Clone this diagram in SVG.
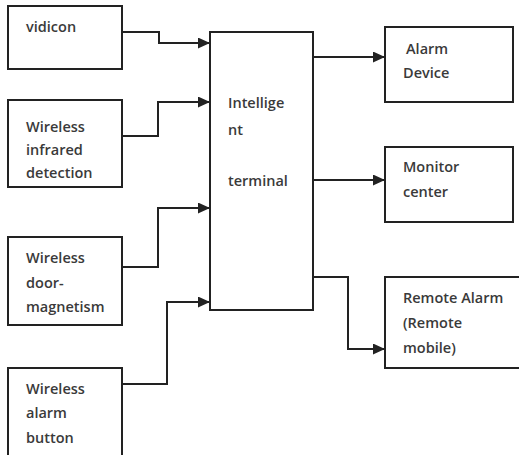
<svg xmlns="http://www.w3.org/2000/svg" width="519" height="455" viewBox="0 0 519 455">
<defs>
<marker id="ah" markerWidth="12" markerHeight="12" refX="12" refY="5.5" orient="auto" markerUnits="userSpaceOnUse">
<path d="M0,0 L12,5.5 L0,11 Z" fill="#222"/>
</marker>
<style>
.box{fill:#fff;stroke:#222;stroke-width:2}
.t{font-family:"Open Sans","Liberation Sans",sans-serif;font-size:14.5px;font-weight:600;fill:#3a3a3a}
.c{fill:none;stroke:#222;stroke-width:2;marker-end:url(#ah)}
</style>
</defs>
<rect width="519" height="455" fill="#fff"/>
<g id="connectors">
<path class="c" d="M122,32 H159 V43 H210"/>
<path class="c" d="M122,136 H158 V102 H210"/>
<path class="c" d="M122,267 H158 V208 H210"/>
<path class="c" d="M122,384 H167 V302 H210"/>
<path class="c" d="M313,57 H385"/>
<path class="c" d="M313,180 H385"/>
<path class="c" d="M313,277 H348 V349 H385"/>
</g>
<g id="vidicon"><rect class="box" x="8" y="6" width="114" height="63"/><text class="t" x="26" y="32">vidicon</text></g>
<g id="infrared"><rect class="box" x="8" y="100" width="114" height="87"/><text class="t" x="26" y="132">Wireless</text><text class="t" x="26" y="155">infrared</text><text class="t" x="26" y="178">detection</text></g>
<g id="door"><rect class="box" x="8" y="237" width="114" height="88"/><text class="t" x="26" y="263">Wireless</text><text class="t" x="26" y="288">door-</text><text class="t" x="26" y="312">magnetism</text></g>
<g id="button"><rect class="box" x="8" y="368" width="114" height="92"/><text class="t" x="26" y="394">Wireless</text><text class="t" x="26" y="418">alarm</text><text class="t" x="26" y="443">button</text></g>
<g id="terminal"><rect class="box" x="210" y="32" width="103" height="278"/><text class="t" x="228" y="108">Intellige</text><text class="t" x="228" y="135">nt</text><text class="t" x="228" y="186">terminal</text></g>
<g id="alarm"><rect class="box" x="385" y="27" width="128" height="75"/><text class="t" x="406" y="54">Alarm</text><text class="t" x="403" y="78">Device</text></g>
<g id="monitor"><rect class="box" x="385" y="147" width="128" height="75"/><text class="t" x="403" y="172">Monitor</text><text class="t" x="403" y="197">center</text></g>
<g id="remote"><rect class="box" x="385" y="277" width="140" height="91"/><text class="t" x="403" y="303">Remote Alarm</text><text class="t" x="403" y="328">(Remote</text><text class="t" x="403" y="353">mobile)</text></g>
</svg>
